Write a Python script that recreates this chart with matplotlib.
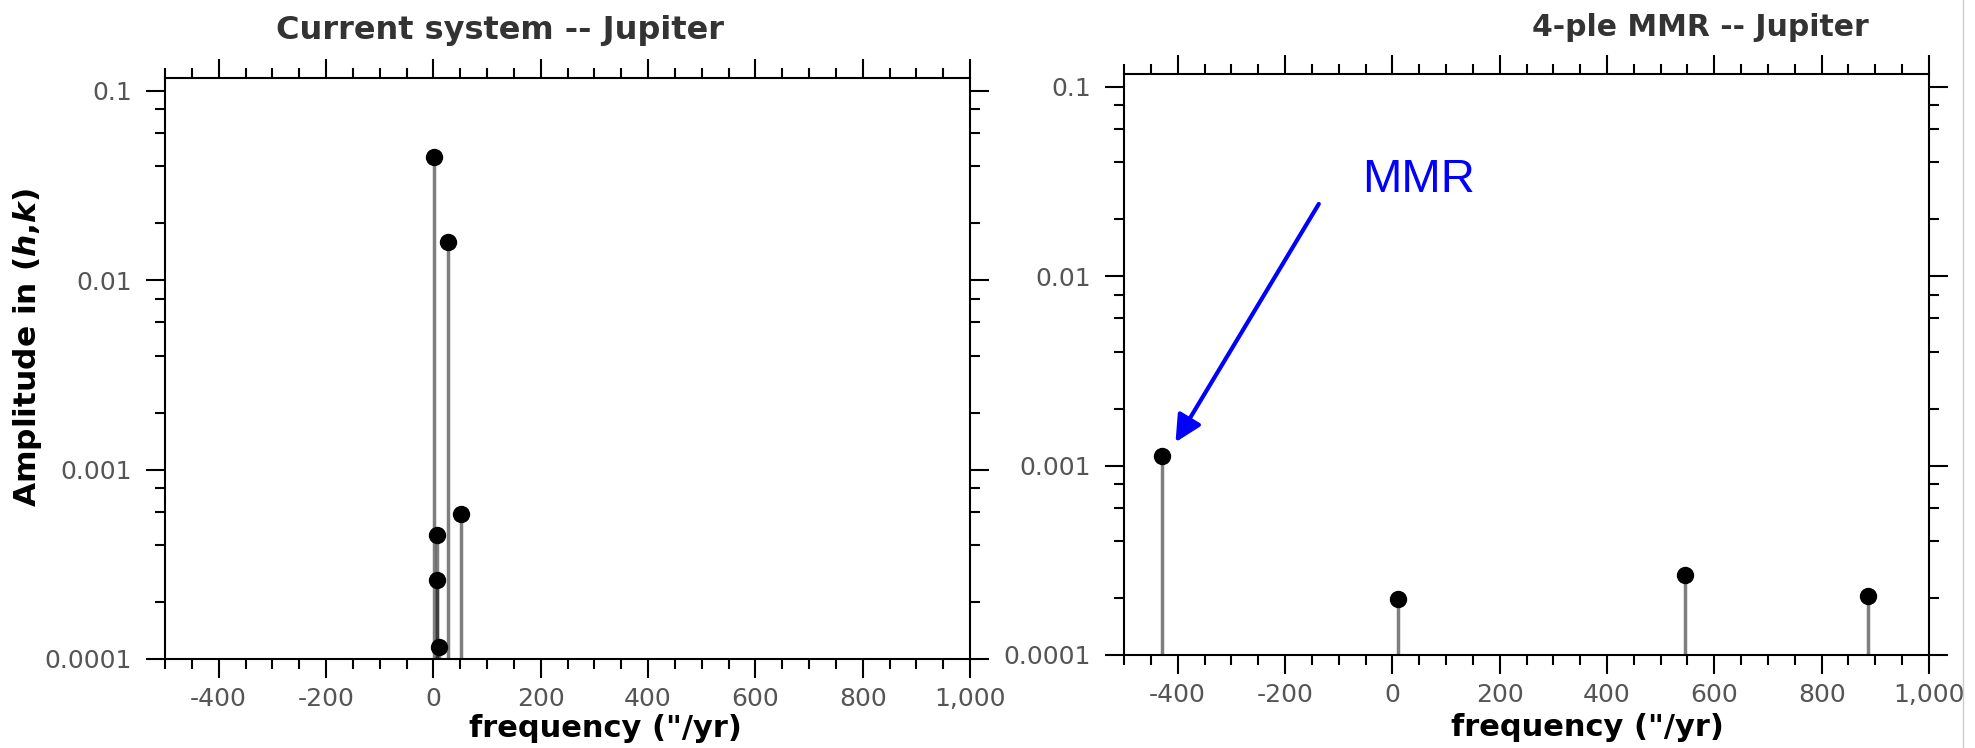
import matplotlib

matplotlib.use("Agg")
import matplotlib.pyplot as plt
from matplotlib.lines import Line2D
from matplotlib.ticker import FuncFormatter, LogLocator, MultipleLocator

plt.rcParams["font.family"] = ["DejaVu Sans"]
plt.rcParams["axes.unicode_minus"] = False

# frequency analysis of Jupiter's (h,k), current system
cur_freq = [2, 28, 51, 6, 7, 10]
cur_amp = [0.045, 0.0159, 0.00058, 0.00045, 0.00026, 0.000116]

# same planet inside the 4-ple mean motion resonance
mmr_freq = [-430, 10, 546, 886]
mmr_amp = [0.00113, 0.000198, 0.000263, 0.000205]

titles = ["Current system -- Jupiter", "4-ple MMR -- Jupiter"]
x_label = 'frequency ("/yr)'
y_label = r"Amplitude in ($\boldsymbol{h}$,$\boldsymbol{k}$)"

W, H = 1975, 748


def px_axes(left, top, right, bottom):
    return [left / W, 1 - bottom / H, (right - left) / W, (bottom - top) / H]


def style(ax):
    ax.set_yscale("log")
    ax.set_ylim(1e-4, 0.117)
    ax.set_xlim(-500, 1000)
    ax.xaxis.set_major_locator(MultipleLocator(200))
    ax.xaxis.set_minor_locator(MultipleLocator(50))
    ax.xaxis.set_major_formatter(FuncFormatter(lambda v, p: f"{v:,.0f}"))
    ax.yaxis.set_major_locator(LogLocator(base=10, numticks=10))
    ax.yaxis.set_minor_locator(LogLocator(base=10, subs=(2, 4, 6, 8), numticks=10))
    ax.yaxis.set_major_formatter(FuncFormatter(lambda v, p: f"{v:g}"))
    ax.tick_params(which="both", direction="out", top=True, right=True,
                   width=1.5, color="black", labelcolor="#555555", labelsize=18)
    ax.tick_params(which="major", length=14)
    ax.tick_params(which="minor", length=7.5)
    ax.tick_params(axis="y", which="major", pad=10)
    ax.tick_params(axis="x", which="major", pad=6)
    for s in ax.spines.values():
        s.set_linewidth(1.5)


def stems(ax, freq, amp):
    ax.vlines(freq, 1e-4, amp, colors="black", alpha=0.5, lw=2.5, zorder=2)
    ax.plot(freq, amp, "o", color="black", ms=11.5, zorder=3)


fig = plt.figure(figsize=(W / 100, H / 100), dpi=100)
ax1 = fig.add_axes(px_axes(165, 78, 970, 659))
ax2 = fig.add_axes(px_axes(1124, 74, 1929, 655))

stems(ax1, cur_freq, cur_amp)
stems(ax2, mmr_freq, mmr_amp)

for ax, xl, yl in [(ax1, 0.547, -0.119), (ax2, 0.576, -0.124)]:
    style(ax)
    ax.set_xlabel(x_label, fontsize=22, fontweight="bold", color="black")
    ax.xaxis.label.set_va("center")
    ax.xaxis.set_label_coords(xl, yl)

fig.text(28 / W, 1 - 348 / H, y_label, rotation=90, fontsize=22.5, fontweight="bold",
         ha="center", va="center")
fig.text(500 / W, 1 - 31 / H, titles[0], fontsize=23, fontweight="bold",
         color="#333333", ha="center", va="center")
fig.text(1700 / W, 1 - 28 / H, titles[1], fontsize=21.5, fontweight="bold",
         color="#333333", ha="center", va="center")

# arrow pointing at the resonant term
ax2.annotate("", xy=(-404, 0.00133), xytext=(-137, 0.0241),
             arrowprops=dict(arrowstyle="-|>", color="blue", lw=3, mutation_scale=40,
                             shrinkA=0, shrinkB=0))
ax2.text(-56, 0.028, "MMR", color="blue", fontsize=34, family="Liberation Sans",
         ha="left", va="baseline")

fig.add_artist(Line2D([1963 / W, 1963 / W], [0, 1], color="#cccccc", lw=1))

fig.savefig("out.png", dpi=100)
